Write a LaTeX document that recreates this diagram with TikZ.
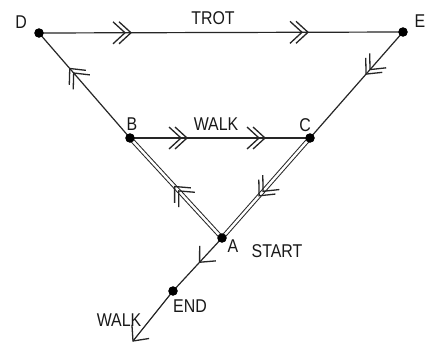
\documentclass[tikz,border=0pt]{standalone}
\usepackage{fontspec}
\setmainfont{Liberation Sans}
\usepackage{graphicx}
\usetikzlibrary{decorations.markings}
\newcommand{\lbl}[1]{\scalebox{0.86}[1]{\fontsize{18.5}{18.5}\selectfont #1}}
\tikzset{
  edge/.style={line width=1.2pt, draw=black!85},
  dbl/.style={line width=1pt, draw=black!85, double=white, double distance=2.4pt},
  dot/.style={circle, fill=black, inner sep=0pt, minimum size=9pt},
  lab/.style={inner sep=0pt, text=black!90},
  chev/.style={line width=1.3pt, draw=black!85},
  chv/.style={postaction={decorate, decoration={markings,
      mark=at position #1 with {\draw[chev] (-12pt,11pt) -- (0pt,0pt) -- (-12pt,-11pt);}}}}
}
\begin{document}
\begin{tikzpicture}[x=1pt, y=-1pt]
\fill[white] (0,0) rectangle (428,343);
\useasboundingbox (0,0) rectangle (428,343);

% points
\node[dot] (D) at (39,33) {};
\node[dot] (E) at (403,32) {};
\node[dot] (B) at (130,138) {};
\node[dot] (C) at (310,138) {};
\node[dot] (A) at (222,238) {};
\node[dot] (F) at (173,291) {};
\coordinate (T) at (133,341);

% single lines
\draw[edge, chv=92pt, chv=86pt, chv=269pt, chv=263pt] (D.center) -- (E.center);
\draw[edge, chv=57pt, chv=51pt, chv=135pt, chv=129pt] (B.center) -- (C.center);
\draw[edge, chv=92pt, chv=86pt] (B.center) -- (D.center);
\draw[edge, chv=56pt, chv=50pt] (E.center) -- (C.center);

% double lines
\draw[dbl] (A.center) -- (B.center);
\draw[dbl] (C.center) -- (A.center);
\path[chv=70pt, chv=64pt] (A.center) -- (B.center);
\path[chv=77pt, chv=71pt] (C.center) -- (A.center);

% tail
\draw[edge, chv=33pt] (A.center) -- (F.center);
\draw[edge, chv=1] (F.center) -- (T);

% redraw dots on top
\foreach \p in {D,E,B,C,A,F} \fill[black] (\p) circle (4.7pt);

% labels
\node[lab] (lD) at (21,22) {\lbl{D}};
\node[lab] (lTROT) at (213,18) {\lbl{TROT}};
\node[lab] (lE) at (420,21) {\lbl{E}};
\node[lab] (lB) at (132,124) {\lbl{B}};
\node[lab] (lW1) at (216,124) {\lbl{WALK}};
\node[lab] (lC) at (305,125) {\lbl{C}};
\node[lab] (lA) at (233,246) {\lbl{A}};
\node[lab] (lS) at (277,251) {\lbl{START}};
\node[lab] (lEND) at (190,306) {\lbl{END}};
\node[lab] (lW2) at (119,320) {\lbl{WALK}};
\end{tikzpicture}
\end{document}
